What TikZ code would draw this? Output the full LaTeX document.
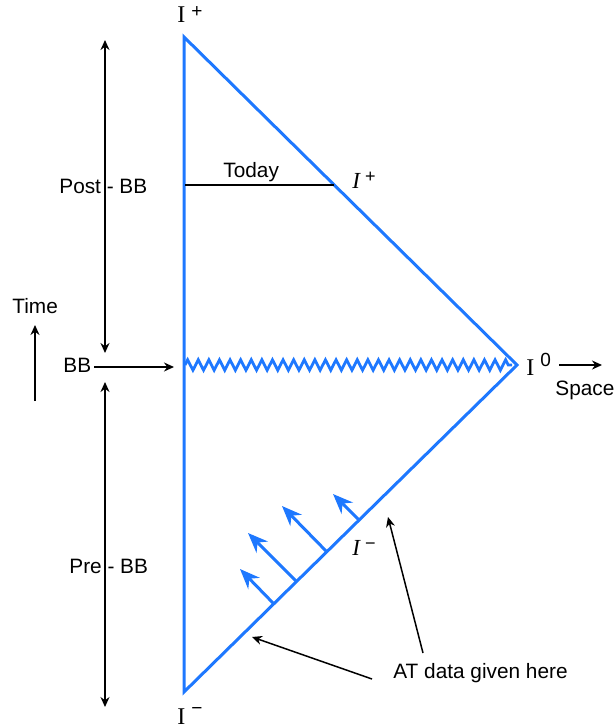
\documentclass[tikz,border=0pt]{standalone}
\usepackage{fontspec}
\setmainfont{Liberation Sans}
\newfontfamily\timesfont{Liberation Serif}
\usetikzlibrary{arrows.meta,decorations.pathmorphing}
\definecolor{coneblue}{RGB}{30,120,255}
\tikzset{
    cone/.style={draw=coneblue, line width=1.5pt, line join=miter},
    lbl/.style={font=\fontsize{10.4}{12}\selectfont, inner sep=0pt, anchor=base west},
    flow/.style={coneblue, line width=1.5pt, -{Stealth[length=10pt,width=8pt]}},
}
% scri labels: I with a small sans superscript
\newcommand{\scrilbl}[3][2.6pt]{{\timesfont\fontsize{12}{14}\selectfont #2}\hspace{3pt}\raisebox{#1}{\fontsize{9.5}{10}\selectfont #3}}
\newcommand{\scriit}[1]{{\timesfont\itshape\fontsize{11.5}{13}\selectfont I}\hspace{2.5pt}\raisebox{3pt}{\fontsize{9}{10}\selectfont #1}}
\begin{document}
\begin{tikzpicture}[x=0.5pt, y=-0.5pt, >={Stealth[length=5pt,width=4.5pt]}]
    \useasboundingbox (0,0) rectangle (615,728);
    % the diagram
    \coordinate (top) at (184,37);
    \coordinate (io) at (517,365);
    \coordinate (bot) at (184,692);
    \draw[cone] (top) -- (io) -- (bot) -- cycle;
    \coordinate (zzl) at (185,365);
    \coordinate (zzr) at (512,365);
    \draw[coneblue, line width=1.4pt, decorate, decoration={zigzag, segment length=5.3pt, amplitude=2.6pt}] (zzl) -- (zzr);
    % today
    \coordinate (tl) at (185,185);
    \coordinate (tr) at (334,185);
    \draw[line width=0.75pt] (tl) -- (tr);
    \node[lbl] (today) at (223,177) {Today};
    % labels at the corners
    \node[lbl] (iplus) at (177,23) {\scrilbl{I}{+}};
    \node[lbl] (iminus) at (177,724) {\scrilbl[4.6pt]{I}{−}};
    \node[lbl] (izero) at (526,375) {\scrilbl[4.4pt]{I}{0}};
    \node[lbl] (scrip) at (352,188) {\scriit{+}};
    \node[lbl] (scrim) at (352,555) {\scriit{−}};
    % space and time
    \coordinate (sp1) at (559,365);
    \coordinate (sp2) at (602,365);
    \draw[->, line width=0.75pt] (sp1) -- (sp2);
    \node[lbl] (space) at (555,395) {Space};
    \node[lbl] (time) at (12,313) {Time};
    \coordinate (tm1) at (35,401);
    \coordinate (tm2) at (35,325);
    \draw[->, line width=0.75pt] (tm1) -- (tm2);
    % big bang
    \node[lbl] (bb) at (63,372) {BB};
    \coordinate (bbstart) at (94,367);
    \coordinate (bbend) at (174,367);
    \draw[->, line width=0.75pt] (bbstart) -- (bbend);
    \node[lbl] (post) at (59,193) {Post - BB};
    \node[lbl] (pre) at (69,573) {Pre - BB};
    \coordinate (pa1) at (105,40);
    \coordinate (pa2) at (105,353);
    \coordinate (pb1) at (105,382);
    \coordinate (pb2) at (105,707);
    \draw[<->, line width=0.75pt] (pa1) -- (pa2);
    \draw[<->, line width=0.75pt] (pb1) -- (pb2);
    % data on I minus
    \coordinate (b1) at (273,603);
    \coordinate (b2) at (296,581);
    \coordinate (b3) at (327,552);
    \coordinate (b4) at (359,520);
    \coordinate (t1) at (240,569);
    \coordinate (t2) at (248,533);
    \coordinate (t3) at (282,506);
    \coordinate (t4) at (333,494);
    \foreach \i in {1,...,4}
        \draw[flow] (b\i) -- (t\i);
    \node[lbl] (atdata) at (393,678) {AT data given here};
    \coordinate (ata) at (372,679);
    \coordinate (atb) at (423,653);
    \coordinate (tipa) at (252,637);
    \coordinate (tipb) at (388,517);
    \draw[->, line width=0.75pt] (ata) -- (tipa);
    \draw[->, line width=0.75pt] (atb) -- (tipb);
\end{tikzpicture}
\end{document}
